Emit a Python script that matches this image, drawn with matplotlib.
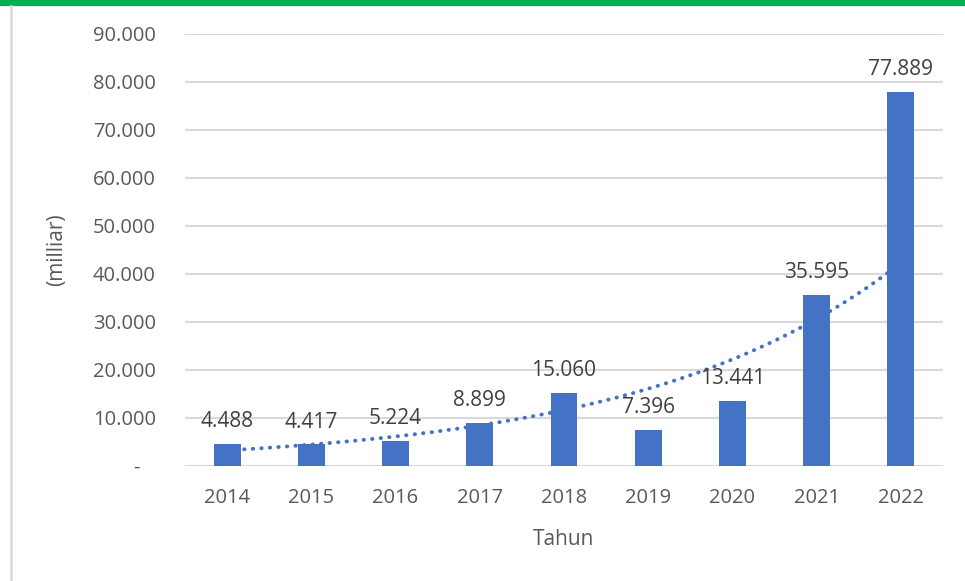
import numpy as np
import matplotlib
matplotlib.use("Agg")
import matplotlib.pyplot as plt
from matplotlib.lines import Line2D

years = ["2014", "2015", "2016", "2017", "2018", "2019", "2020", "2021", "2022"]
values = [4488, 4417, 5224, 8899, 15060, 7396, 13441, 35595, 77889]
yticks = [0, 10000, 20000, 30000, 40000, 50000, 60000, 70000, 80000, 90000]

BAR = "#4472C4"
TEXT = "#595959"
GRID = "#D9D9D9"

plt.rcParams["font.family"] = ["Open Sans", "DejaVu Sans"]


def fmt(v):
    return "{:,}".format(int(v)).replace(",", ".")


fig = plt.figure(figsize=(9.65, 5.81), dpi=100)
fig.patch.set_facecolor("white")
ax = fig.add_axes([185 / 965, 1 - 465.7 / 581, (943 - 185) / 965, (465.7 - 33.7) / 581])

x = np.arange(len(years))
ax.bar(x, values, width=0.32, color=BAR, zorder=3)

# exponential trendline (Excel-style), drawn behind the bars
b, a = np.polyfit(x, np.log(values), 1)
xt = np.linspace(0, len(years) - 1, 200)
ax.plot(xt, np.exp(a + b * xt), color=BAR, lw=2.8, linestyle=(0, (0.1, 2.1)),
        dash_capstyle="round", zorder=2)

for xi, v in zip(x, values):
    ax.annotate(fmt(v), (xi, v), xytext=(0, 12.2), textcoords="offset points",
                ha="center", va="baseline", fontsize=15, color="#404040", zorder=4)

ax.set_xlim(-0.5, len(years) - 0.5)
ax.set_ylim(0, 90000)
ax.set_xticks(x)
ax.set_xticklabels(years)
ax.set_yticks(yticks)
ax.set_yticklabels(["-   "] + [fmt(t) for t in yticks[1:]])
ax.tick_params(axis="both", length=0, labelsize=14.5, labelcolor=TEXT)
ax.tick_params(axis="x", pad=16)
ax.tick_params(axis="y", pad=21)
ax.grid(axis="y", color=GRID, lw=1.5, zorder=0)
ax.set_axisbelow(True)
for s in ax.spines.values():
    s.set_visible(False)

ax.set_xlabel("Tahun", fontsize=15, color=TEXT, labelpad=15)
fig.text(57 / 965, 1 - 250 / 581, "(milliar)", rotation=90, fontsize=15,
         color=TEXT, ha="center", va="center")

# frame decorations: green top rule and grey left rule
fig.add_artist(Line2D([0, 1], [1 - 3 / 581, 1 - 3 / 581], color="#00B050", lw=4.5))
fig.add_artist(Line2D([11 / 965, 11 / 965], [0, 1 - 6 / 581], color="#D9D9D9", lw=1.8))

fig.savefig("out.png", dpi=100, facecolor="white")
